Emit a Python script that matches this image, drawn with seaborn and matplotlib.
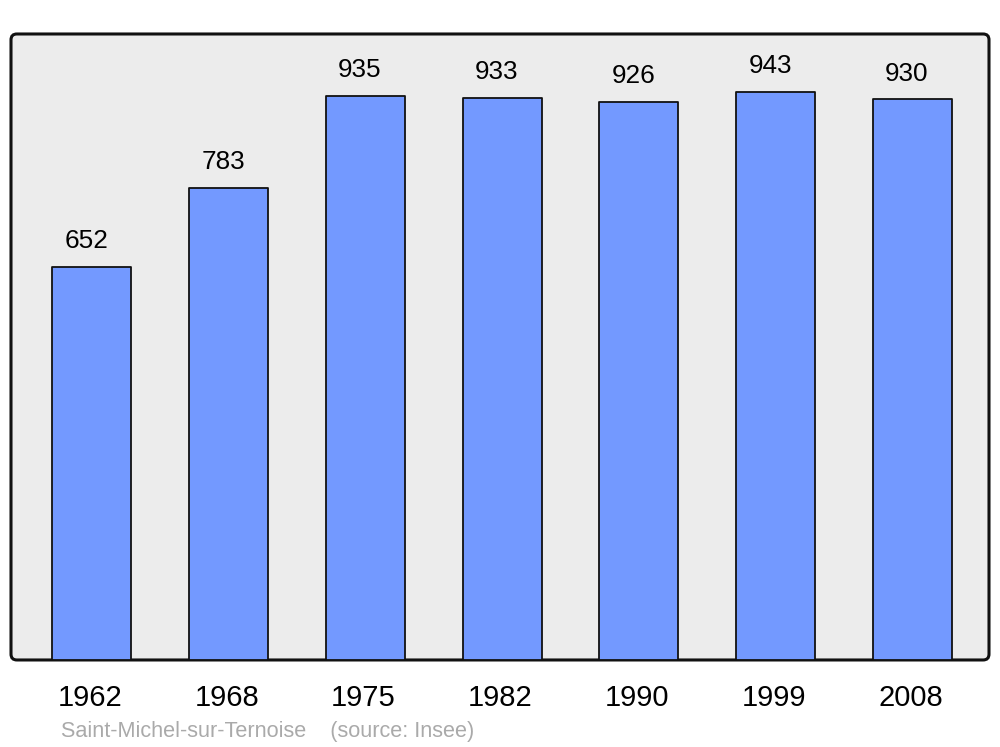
import matplotlib
matplotlib.use("Agg")
import matplotlib.pyplot as plt
import matplotlib.transforms as mtransforms
import seaborn as sns
import pandas as pd
from matplotlib.patches import FancyBboxPatch

years = ["1962", "1968", "1975", "1982", "1990", "1999", "2008"]
population = [652, 783, 935, 933, 926, 943, 930]
footer = "Saint-Michel-sur-Ternoise    (source: Insee)"

sns.set_style("white")
plt.rcParams["font.family"] = ["Liberation Sans", "DejaVu Sans"]

df = pd.DataFrame({"year": years, "pop": population})

fig = plt.figure(figsize=(10, 7.47), dpi=100)
ax = fig.add_axes([0.011, 0.1165, 0.978, 0.838])
ax.set_facecolor("none")

bg = FancyBboxPatch((0, 0), 1, 1, boxstyle="round,pad=0,rounding_size=0.006",
                    transform=ax.transAxes, facecolor="#ececec", edgecolor="#111111",
                    linewidth=2.2, clip_on=False, zorder=0, mutation_aspect=978/626)
ax.add_patch(bg)

sns.barplot(data=df, x="year", y="pop", color="#7399ff", saturation=1,
            width=0.578, edgecolor="#111111", linewidth=1.3, ax=ax, zorder=2)

for p in ax.patches:
    if isinstance(p, matplotlib.patches.Rectangle):
        p.set_joinstyle("round")

for i, v in enumerate(population):
    ax.annotate(str(v), (i, v), xytext=(-4, 10), textcoords="offset points",
                ha="center", va="bottom", fontsize=18.8, color="#000000")

ax.set_xlim(-0.592, 6.56)
ax.set_ylim(0, 1038.5)
ax.set_xlabel("")
ax.set_ylabel("")
ax.set_yticks([])
for s in ax.spines.values():
    s.set_visible(False)
ax.tick_params(axis="x", length=0, pad=17, labelsize=21, labelcolor="#000000")
shift = mtransforms.ScaledTranslation(-2 / 100, 0, fig.dpi_scale_trans)
for lab in ax.get_xticklabels():
    lab.set_transform(lab.get_transform() + shift)

fig.text(0.061, 0.0205, footer, fontsize=15.6, color="#aaaaaa", ha="left", va="center")

fig.savefig("out.png", dpi=100)
